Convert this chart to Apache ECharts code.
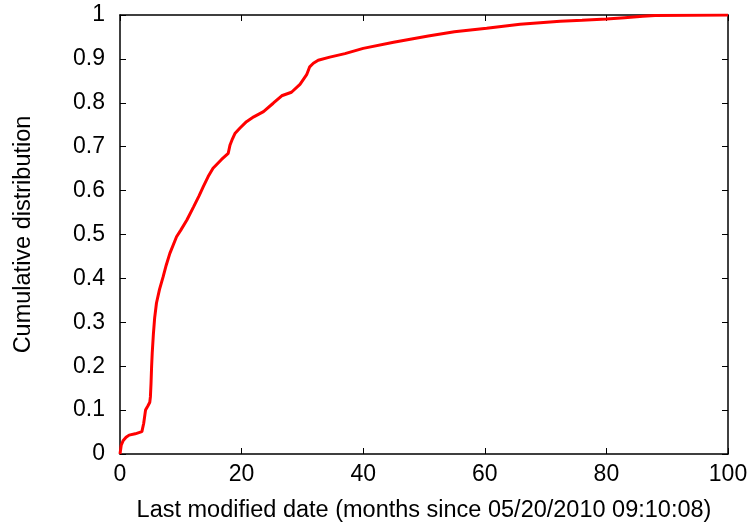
<!DOCTYPE html>
<html>
<head>
<meta charset="utf-8">
<script src="https://cdn.jsdelivr.net/npm/echarts@6/dist/echarts.min.js"></script>
<style>
  html, body { margin: 0; padding: 0; background: #fff; }
  #chart { width: 754px; height: 528px; }
</style>
</head>
<body>
<div id="chart"></div>
<script>
// Months since the reference date
const months = [0, 0.2, 0.5, 1, 1.5, 2.5, 3.6, 3.9, 4.2, 4.6, 4.9, 5.0, 5.1, 5.2, 5.3, 5.5, 5.7, 6.0, 6.5, 7.1, 7.6, 8.2, 9.3, 10, 11, 12.1, 13, 13.7, 14.5, 15.3, 16.7, 17.8, 18.1, 18.5, 18.9, 19.7, 20.8, 22, 23.6, 25.2, 26.6, 28.2, 29.6, 30.7, 31.2, 31.8, 32.6, 34.5, 37, 40, 45, 50.7, 55, 60.3, 65.8, 72.4, 76, 80, 83, 86, 88, 100];
// Cumulative fraction of files
const cdf = [0, 0.02, 0.03, 0.038, 0.043, 0.046, 0.051, 0.07, 0.1, 0.11, 0.118, 0.13, 0.16, 0.2, 0.23, 0.275, 0.31, 0.344, 0.375, 0.404, 0.43, 0.457, 0.495, 0.51, 0.533, 0.563, 0.588, 0.609, 0.632, 0.651, 0.671, 0.685, 0.704, 0.718, 0.73, 0.742, 0.757, 0.768, 0.78, 0.799, 0.816, 0.824, 0.842, 0.864, 0.882, 0.89, 0.897, 0.904, 0.912, 0.924, 0.938, 0.952, 0.962, 0.97, 0.979, 0.986, 0.988, 0.991, 0.994, 0.997, 0.999, 1];

const xTitle = 'Last modified date (months since 05/20/2010 09:10:08)';
const yTitle = 'Cumulative distribution';

const font = 'Liberation Sans, Arial, sans-serif';
const points = months.map((m, i) => [m, cdf[i]]);

const frameLine = { show: true, onZero: false, lineStyle: { color: '#000', width: 1.5 } };
const innerTick = { show: true, inside: true, length: 6, lineStyle: { color: '#000', width: 1 } };

const chart = echarts.init(document.getElementById('chart'));
chart.setOption({
  animation: false,
  backgroundColor: '#fff',
  grid: { left: 120, right: 26, top: 15, bottom: 74, containLabel: false },
  xAxis: [
    {
      type: 'value', min: 0, max: 100, interval: 20, position: 'bottom',
      name: xTitle, nameLocation: 'middle', nameGap: 45,
      nameTextStyle: { fontFamily: font, fontSize: 23.5, color: '#000' },
      axisLine: frameLine, axisTick: innerTick,
      axisLabel: { fontFamily: font, fontSize: 23, color: '#000', margin: 9 },
      splitLine: { show: false }
    },
    {
      type: 'value', min: 0, max: 100, interval: 20, position: 'top',
      axisLine: frameLine, axisTick: innerTick,
      axisLabel: { show: false }, splitLine: { show: false }
    }
  ],
  yAxis: [
    {
      type: 'value', min: 0, max: 1, interval: 0.1, position: 'left',
      name: yTitle, nameLocation: 'middle', nameGap: 84, nameRotate: 90,
      nameTextStyle: { fontFamily: font, fontSize: 23.5, color: '#000' },
      axisLine: frameLine, axisTick: innerTick,
      axisLabel: { fontFamily: font, fontSize: 23, color: '#000', margin: 15 },
      splitLine: { show: false }
    },
    {
      type: 'value', min: 0, max: 1, interval: 0.1, position: 'right',
      axisLine: frameLine, axisTick: innerTick,
      axisLabel: { show: false }, splitLine: { show: false }
    }
  ],
  series: [{
    type: 'line',
    data: points,
    showSymbol: false,
    smooth: false,
    lineStyle: { color: '#ff0000', width: 3 },
    itemStyle: { color: '#ff0000' }
  }]
});
</script>
</body>
</html>
